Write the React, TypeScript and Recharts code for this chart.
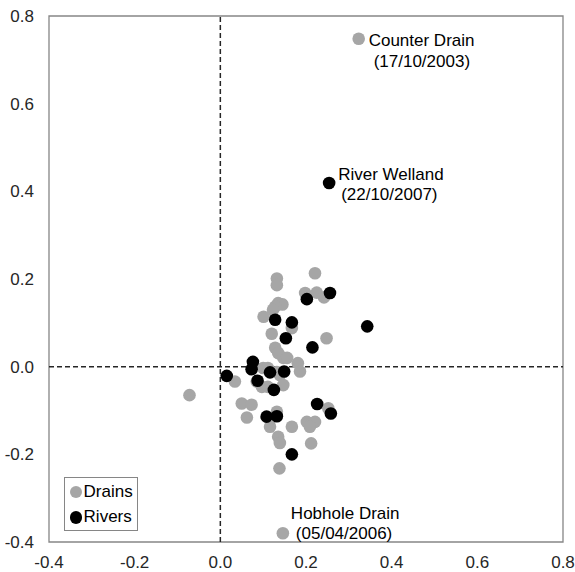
import React from 'react';
import {
  ScatterChart,
  Scatter,
  XAxis,
  YAxis,
  ReferenceLine,
  ReferenceArea,
  Legend,
} from 'recharts';

// ---------- data ----------
const axisTicks = [-0.4, -0.2, 0, 0.2, 0.4, 0.6, 0.8];

const drainPoints: [number, number][] = [
  [0.221, 0.213], [0.132, 0.201], [0.132, 0.186], [0.198, 0.168], [0.225, 0.169],
  [0.242, 0.158], [0.135, 0.145], [0.145, 0.142], [0.128, 0.137], [0.123, 0.13],
  [0.101, 0.114], [0.167, 0.088], [0.12, 0.075], [0.248, 0.065], [0.128, 0.043],
  [0.135, 0.031], [0.147, 0.02], [0.156, 0.02], [0.181, 0.008], [0.186, -0.011],
  [0.1, -0.003], [0.111, -0.003], [0.132, -0.012], [0.139, -0.019], [0.034, -0.034],
  [0.085, -0.034], [0.097, -0.046], [0.111, -0.046], [0.147, -0.042], [-0.072, -0.065],
  [0.05, -0.084], [0.073, -0.087], [0.062, -0.116], [0.132, -0.103], [0.116, -0.137],
  [0.167, -0.137], [0.202, -0.126], [0.213, -0.129], [0.221, -0.126], [0.209, -0.137],
  [0.252, -0.095], [0.135, -0.16], [0.139, -0.174], [0.212, -0.175], [0.138, -0.232],
];

const riverPoints: [number, number][] = [
  [0.256, 0.168], [0.202, 0.154], [0.128, 0.107], [0.167, 0.101], [0.153, 0.065],
  [0.343, 0.092], [0.215, 0.044], [0.076, 0.011], [0.073, -0.006], [0.116, -0.013],
  [0.149, -0.011], [0.015, -0.021], [0.087, -0.032], [0.125, -0.053], [0.226, -0.085],
  [0.258, -0.107], [0.108, -0.114], [0.132, -0.113], [0.167, -0.2],
];

const annotatedPoints = [
  { group: 'Drains', name: 'Counter Drain', date: '(17/10/2003)', x: 0.323, y: 0.748 },
  { group: 'Rivers', name: 'River Welland', date: '(22/10/2007)', x: 0.254, y: 0.419 },
  { group: 'Drains', name: 'Hobhole Drain', date: '(05/04/2006)', x: 0.146, y: -0.38 },
];

const seriesNames = ['Drains', 'Rivers'];

// ---------- styles ----------
const FONT = '"Liberation Sans", Arial, sans-serif';
const colors: Record<string, string> = { Drains: '#a6a6a6', Rivers: '#000000' };
const DOT_R = 6.3;
const labelOffsets: Record<string, { dx1: number; dy1: number; dx2: number; dy2: number }> = {
  'Counter Drain': { dx1: 10, dy1: 1, dx2: 15, dy2: 22 },
  'River Welland': { dx1: 9, dy1: -9, dx2: 12, dy2: 11 },
  'Hobhole Drain': { dx1: 8, dy1: -20, dx2: 13, dy2: 0 },
};

const buildSeries = (group: string, pts: [number, number][]) =>
  pts
    .map(([x, y]) => ({ x, y } as any))
    .concat(annotatedPoints.filter((a) => a.group === group));

const drainData = buildSeries('Drains', drainPoints);
const riverData = buildSeries('Rivers', riverPoints);

const makeShape = (fill: string) => (props: any) => {
  const { cx, cy, payload } = props;
  const off = payload && payload.name ? labelOffsets[payload.name] : null;
  return (
    <g>
      <circle cx={cx} cy={cy} r={DOT_R} fill={fill} />
      {off && (
        <g fontFamily={FONT} fontSize={17} fill="#000">
          <text x={cx + off.dx1} y={cy + off.dy1} dy="0.36em">
            {payload.name}
          </text>
          <text x={cx + off.dx2} y={cy + off.dy2} dy="0.36em">
            {payload.date}
          </text>
        </g>
      )}
    </g>
  );
};

const LegendBox = () => (
  <div
    style={{
      border: '1px solid #868686',
      background: '#fff',
      width: 72,
      height: 51,
      boxSizing: 'content-box',
      fontFamily: FONT,
      fontSize: 17,
      color: '#000',
      paddingTop: 1,
    }}
  >
    {seriesNames.map((n) => (
      <div key={n} style={{ display: 'flex', alignItems: 'center', height: 25.6, paddingLeft: 4.5 }}>
        <span
          style={{
            display: 'inline-block',
            width: DOT_R * 2,
            height: DOT_R * 2,
            borderRadius: '50%',
            background: colors[n],
            marginRight: 1.5,
          }}
        />
        <span>{n}</span>
      </div>
    ))}
  </div>
);

const fmt = (v: number) => v.toFixed(1);
const tickStyle = { fill: '#262626', fontSize: 17, fontFamily: FONT };

export default function App() {
  return (
    <div style={{ position: 'absolute', left: 0, top: 0, background: '#fff' }}>
      <ScatterChart
        width={575}
        height={572}
        margin={{ top: 16, right: 12, bottom: 0, left: 0 }}
        style={{ fontFamily: FONT }}
      >
        <XAxis
          type="number"
          dataKey="x"
          domain={[-0.4, 0.8]}
          ticks={axisTicks}
          tickFormatter={fmt}
          tick={tickStyle}
          tickLine={false}
          axisLine={false}
          tickSize={0}
          tickMargin={14}
          height={30}
          interval={0}
        />
        <YAxis
          type="number"
          dataKey="y"
          domain={[-0.4, 0.8]}
          ticks={axisTicks}
          tickFormatter={fmt}
          tick={tickStyle}
          tickLine={false}
          axisLine={false}
          tickSize={0}
          tickMargin={15}
          width={49}
          interval={0}
        />
        <ReferenceArea
          x1={-0.4}
          x2={0.8}
          y1={-0.4}
          y2={0.8}
          fill="none"
          fillOpacity={0}
          stroke="#868686"
          strokeWidth={1.3}
        />
        <ReferenceLine x={0} stroke="#262626" strokeWidth={1.5} strokeDasharray="5 3" />
        <ReferenceLine y={0} stroke="#262626" strokeWidth={1.5} strokeDasharray="5 3" />
        <Scatter
          name="Drains"
          data={drainData}
          fill={colors.Drains}
          shape={makeShape(colors.Drains)}
          isAnimationActive={false}
        />
        <Scatter
          name="Rivers"
          data={riverData}
          fill={colors.Rivers}
          shape={makeShape(colors.Rivers)}
          isAnimationActive={false}
        />
        <Legend
          layout="vertical"
          align="center"
          verticalAlign="middle"
          content={<LegendBox />}
          wrapperStyle={{ left: 64, top: 477, width: 'auto', height: 'auto' }}
        />
      </ScatterChart>
    </div>
  );
}
